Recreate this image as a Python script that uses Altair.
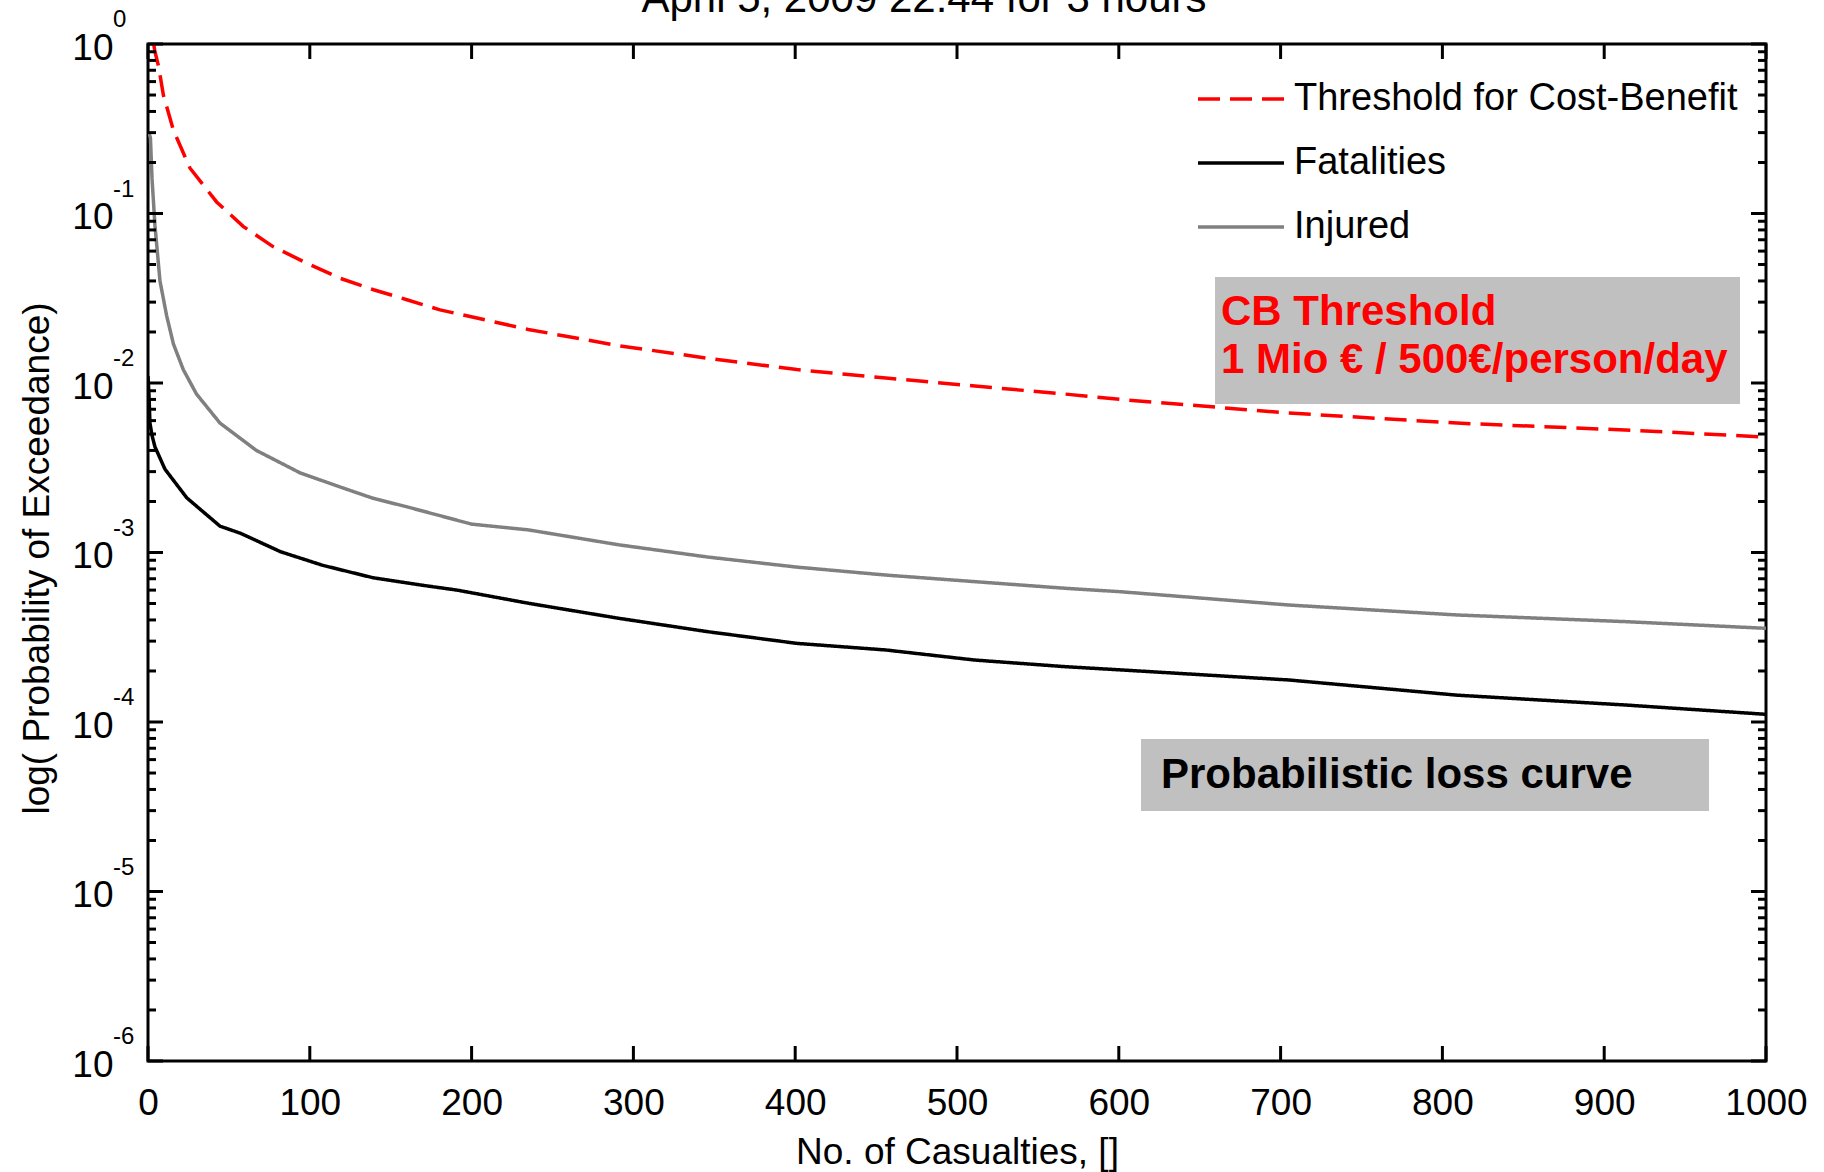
import altair as alt
import pandas as pd

# ---- data: exceedance probability vs. number of casualties ----
threshold_x = [3.5, 4.3, 6.5, 9.5, 15.7, 26, 42.4, 58.8, 77, 98, 118.7, 139.4, 160,
               180.5, 235, 291, 346, 401, 456, 511, 567, 601, 705, 809, 913, 1000]
threshold_p = [1.0, 0.90, 0.74, 0.50, 0.31, 0.185, 0.117, 0.084, 0.064, 0.051, 0.0415,
               0.0355, 0.031, 0.027, 0.0207, 0.0166, 0.0140, 0.0120, 0.0107, 0.0096,
               0.0086, 0.0080, 0.00665, 0.00580, 0.00528, 0.0048]

fatal_x = [0, 0.6, 1.2, 2.5, 4.3, 10.5, 24, 44.5, 57, 82, 108, 139, 170, 191, 235.5,
           291, 346, 401, 456, 511, 567, 601, 705, 809, 913, 1000]
fatal_p = [0.011, 0.0085, 0.0058, 0.0049, 0.0042, 0.0031, 0.0021, 0.00143, 0.0013,
           0.00101, 0.00084, 0.00071, 0.00064, 0.0006, 0.000501, 0.000409, 0.000341,
           0.000291, 0.000266, 0.000232, 0.000212, 0.000203, 0.000177, 0.000144,
           0.000126, 0.000111]

injured_x = [0.5, 1.5, 2.5, 4.3, 7.4, 11.5, 15.7, 21.8, 30, 44.5, 67, 94, 119, 139,
             160, 200, 235, 291, 346, 401, 456, 511, 567, 601, 705, 809, 913, 1000]
injured_p = [0.30, 0.28, 0.16, 0.085, 0.040, 0.025, 0.017, 0.012, 0.0086, 0.0058,
             0.0040, 0.00295, 0.00243, 0.00209, 0.00186, 0.00147, 0.00136, 0.00111,
             0.00094, 0.00082, 0.000736, 0.000673, 0.000615, 0.000587, 0.00049,
             0.000428, 0.000391, 0.000357]

series_names = ["Threshold for Cost-Benefit", "Fatalities", "Injured"]
series_colors = ["#ff0000", "#000000", "#808080"]
series_dash = [[22, 10], [1, 0], [1, 0]]

x_tick_values = list(range(0, 1001, 100))
decade_exponents = [0, -1, -2, -3, -4, -5, -6]
minor_steps = [2, 3, 4, 5, 6, 7, 8, 9]

title_text = "April 5, 2009 22:44 for 3 hours"
cb_lines = ["CB Threshold", "1 Mio € / 500€/person/day"]
loss_label = "Probabilistic loss curve"

FONT = "Liberation Sans, Arial, Helvetica, sans-serif"
W, H = 1618, 1017

# ---- tables ----
curves = pd.concat([
    pd.DataFrame({"casualties": threshold_x, "prob": threshold_p, "series": series_names[0], "k": 0}),
    pd.DataFrame({"casualties": fatal_x, "prob": fatal_p, "series": series_names[1], "k": 1}),
    pd.DataFrame({"casualties": injured_x, "prob": injured_p, "series": series_names[2], "k": 2}),
], ignore_index=True)

major_values = [10.0 ** e for e in decade_exponents]
major_y = pd.DataFrame({"prob": major_values, "exp": [str(e) for e in decade_exponents]})
minor_y = pd.DataFrame({"prob": [m * 10.0 ** e for e in decade_exponents if e < 0 for m in minor_steps]})
x_ticks_df = pd.DataFrame({"casualties": x_tick_values})

xs = alt.Scale(domain=[0, 1000], nice=False, zero=False)
ys = alt.Scale(type="log", domain=[1e-6, 1], nice=False)

# one axis definition per channel, shared by every layer so they merge cleanly
x_axis = alt.Axis(values=x_tick_values, format="d", ticks=False, domain=False,
                  grid=False, labelFont=FONT, labelFontSize=37, labelColor="black",
                  labelPadding=42, labelBaseline="middle", labelFlush=False,
                  labelOverlap=False, title="No. of Casualties, []",
                  titleFont=FONT, titleFontSize=37, titleFontWeight="normal",
                  titleColor="black", titleY=91, titleBaseline="middle")
y_axis = alt.Axis(values=major_values, labelExpr="'10'",
                  ticks=False, domain=False, grid=False, labelFont=FONT,
                  labelFontSize=37, labelColor="black", labelPadding=35,
                  labelOffset=4, labelBaseline="middle", labelFlush=False,
                  labelOverlap=False, title="log( Probability of Exceedance)",
                  titleFont=FONT, titleFontSize=37, titleFontWeight="normal",
                  titleColor="black", titleX=-111, titleY=514, titleAngle=270,
                  titleBaseline="middle", titleAlign="center")

X = alt.X("casualties:Q", scale=xs, axis=x_axis)
Y = alt.Y("prob:Q", scale=ys, axis=y_axis)

# ---- curves ----
lines = alt.Chart(curves).mark_line(strokeWidth=3.5, clip=True).encode(
    x=X, y=Y,
    color=alt.Color("series:N", scale=alt.Scale(domain=series_names, range=series_colors), legend=None),
    strokeDash=alt.StrokeDash("series:N", scale=alt.Scale(domain=series_names, range=series_dash), legend=None),
    order=alt.Order("k:Q"),
)

# ---- inward ticks on all four sides ----
def xtick(y0, y1):
    return alt.Chart(x_ticks_df).mark_rule(color="black", strokeWidth=3).encode(
        x=X, y=alt.value(y0), y2=alt.value(y1))

def ytick(df, x0, x1):
    return alt.Chart(df).mark_rule(color="black", strokeWidth=3).encode(
        y=Y, x=alt.value(x0), x2=alt.value(x1))

ticks = [
    xtick(H, H - 15), xtick(0, 15),
    ytick(major_y, 0, 15), ytick(major_y, W, W - 15),
    ytick(minor_y, 0, 8), ytick(minor_y, W, W - 8),
]

# exponents of the decade labels
exponents = alt.Chart(major_y).mark_text(font=FONT, fontSize=24, align="left",
                                         baseline="middle", dy=-24, color="black").encode(
    y=Y, x=alt.value(-35), text="exp:N")

# ---- title ----
title = alt.Chart(pd.DataFrame({"t": [title_text]})).mark_text(
    font=FONT, fontSize=42, align="center", baseline="alphabetic", color="black"
).encode(x=alt.value(776), y=alt.value(-32), text="t:N")

# ---- legend ----
legend_layers = []
for i, (name, col, dash) in enumerate(zip(series_names, series_colors, series_dash)):
    ydf = pd.DataFrame({"series": [name]})
    row_y = 55 + 64 * i
    legend_layers.append(alt.Chart(ydf).mark_rule(color=col, strokeWidth=3.5, strokeDash=dash).encode(
        x=alt.value(1050), x2=alt.value(1136), y=alt.value(row_y)))
    legend_layers.append(alt.Chart(ydf).mark_text(font=FONT, fontSize=38, align="left",
                                                  baseline="middle", color="black").encode(
        x=alt.value(1146), y=alt.value(row_y), text="series:N"))

# ---- annotation boxes ----
box_df = pd.DataFrame({"a": [0]})
cb_box = alt.Chart(box_df).mark_rect(color="#c0c0c0").encode(
    x=alt.value(1067), x2=alt.value(1592), y=alt.value(233), y2=alt.value(360))
cb_text = [
    alt.Chart(pd.DataFrame({"t": [line]})).mark_text(
        font=FONT, fontSize=42, fontWeight="bold", align="left", baseline="middle", color="#ff0000"
    ).encode(x=alt.value(1073), y=alt.value(yy), text="t:N")
    for line, yy in zip(cb_lines, [268, 316])
]
loss_box = alt.Chart(box_df).mark_rect(color="#c0c0c0").encode(
    x=alt.value(993), x2=alt.value(1561), y=alt.value(695), y2=alt.value(767))
loss_text = alt.Chart(pd.DataFrame({"t": [loss_label]})).mark_text(
    font=FONT, fontSize=42, fontWeight="bold", align="left", baseline="middle", color="black"
).encode(x=alt.value(1013), y=alt.value(731), text="t:N")

chart = alt.layer(
    lines, *ticks, exponents, title, *legend_layers, cb_box, *cb_text, loss_box, loss_text
).properties(
    width=W, height=H,
    autosize=alt.AutoSizeParams(type="none"),
    padding={"left": 148, "top": 44, "right": 58, "bottom": 111},
    background="white",
).configure_view(stroke="black", strokeWidth=3)

chart.save("out.html", embed_options={"renderer": "svg", "actions": False})
